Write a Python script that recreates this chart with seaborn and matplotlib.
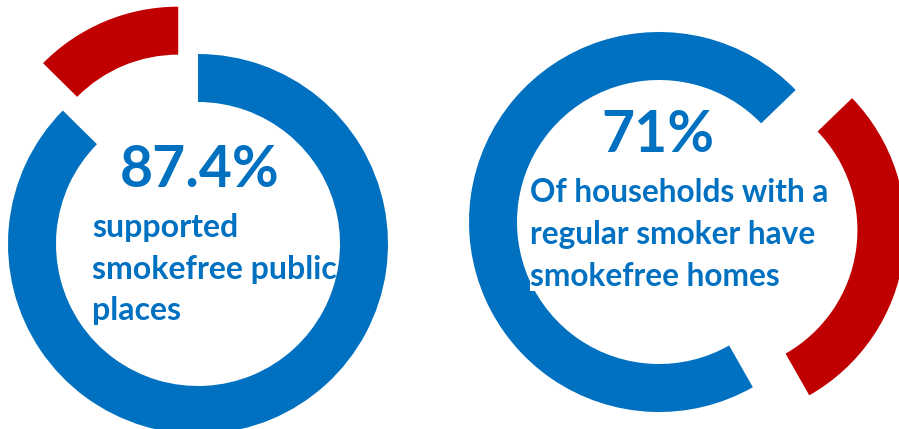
import matplotlib
matplotlib.use("Agg")
import matplotlib.pyplot as plt
import seaborn as sns

# Shares shown in each ring: [supporting / smokefree, rest]
public_places = [87.4, 12.6]
smokefree_homes = [71, 29]

public_headline = "87.4%"
public_lines = ["supported", "smokefree public", "places"]
homes_headline = "71%"
homes_lines = ["Of households with a", "regular smoker have", "smokefree homes"]

sns.set_theme(style="white")
plt.rcParams["font.family"] = ["Lato", "DejaVu Sans"]

BLUE = "#0070C0"
RED = "#C00000"
colors = [BLUE, RED]

W, H = 899, 429
fig = plt.figure(figsize=(W / 100, H / 100), dpi=100)
ax = fig.add_axes([0, 0, 1, 1])

R = 190
RING = 48

# Left ring: starts at 12 o'clock, runs clockwise, remainder pulled out
ax.pie(public_places, colors=colors, startangle=90, counterclock=False,
       center=(198, H - 244), radius=R, explode=[0, 0.27 * R],
       wedgeprops=dict(width=RING, linewidth=0), frame=True)

# Right ring: runs counter-clockwise, remainder pulled out to the right
ax.pie(smokefree_homes, colors=colors, startangle=44, counterclock=True,
       center=(659, H - 222), radius=R, explode=[0, 0.30 * R],
       wedgeprops=dict(width=RING, linewidth=0), frame=True)

for p in ax.patches:
    p.set_zorder(3)

ax.set_xlim(0, W)
ax.set_ylim(0, H)
ax.set_aspect("equal")
ax.axis("off")

ax.text(200, H - 187, public_headline, color=BLUE, fontsize=41,
        fontweight="bold", ha="center", va="baseline", zorder=2)
for i, line in enumerate(public_lines):
    ax.text(92, H - (237 + 41.5 * i), line, color=BLUE, fontsize=23,
            fontweight="bold", ha="left", va="baseline", zorder=2)

ax.text(658, H - 152, homes_headline, color=BLUE, fontsize=41,
        fontweight="bold", ha="center", va="baseline", zorder=4)
for i, line in enumerate(homes_lines):
    ax.text(530, H - (202 + 42 * i), line, color=BLUE, fontsize=22.8,
            fontweight="bold", ha="left", va="baseline", zorder=4,
            bbox=dict(facecolor="white", edgecolor="none", pad=0))

fig.savefig("out.png", dpi=100)
